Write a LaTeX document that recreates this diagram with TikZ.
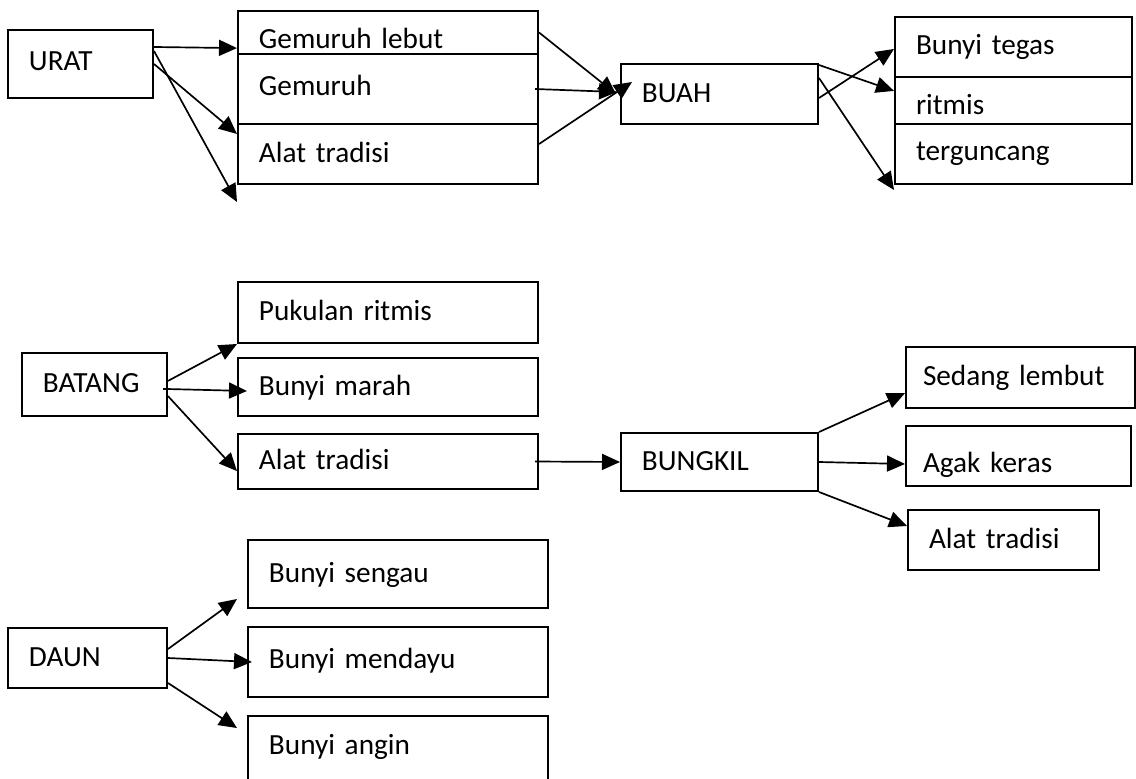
\documentclass[tikz,border=0pt]{standalone}
\usepackage{fontspec}
\setmainfont{Carlito}
\usepackage{tikz}
\usetikzlibrary{arrows.meta}

\tikzset{
    box/.style={draw, line width=1.4pt, anchor=north west, align=left,
        inner xsep=0.525cm, inner ysep=0pt, text height=0.5cm, text depth=0.1cm,
        font=\fontsize{20.8}{24}\selectfont},
    link/.style={line width=1.2pt, -{Triangle[length=0.45cm,width=0.4cm]}},
}

\begin{document}
\begin{tikzpicture}[x=0.025cm, y=-0.025cm]
            \useasboundingbox (0, 0) rectangle (1136, 778);
            \clip (0, 0) rectangle (1136, 778);
            % urat and buah
            \node[box, text width=2.575cm, minimum height=1.7cm] (urat) at (7, 29) {\raisebox{0.05cm}{URAT}};
            \node[box, text width=6.45cm, minimum height=1.075cm] (lebut) at (237, 10) {\raisebox{-0.19cm}{Gemuruh lebut}};
            \node[box, text width=6.45cm, minimum height=1.75cm] (gemuruh) at (237, 53) {\raisebox{0.05cm}{Gemuruh}};
            \node[box, text width=6.45cm, minimum height=1.5cm] (tradisiA) at (237, 123) {Alat tradisi};
            \node[box, text width=3.875cm, minimum height=1.5cm] (buah) at (620, 63) {BUAH};
            \node[box, text width=4.875cm, minimum height=1.5cm] (tegas) at (894, 16) {Bunyi tegas};
            \node[box, text width=4.875cm, minimum height=1.175cm] (ritmis) at (894, 76) {\raisebox{-0.15cm}{ritmis}};
            \node[box, text width=4.875cm, minimum height=1.5cm] (guncang) at (894, 123) {\raisebox{0.05cm}{terguncang}};
            \draw[link] ([yshift=0.425cm]urat.east) -- ([yshift=-0.39cm]lebut.west);
            \draw[link] (urat.east) -- ([yshift=0.5cm]tradisiA.west);
            \draw[link] ([yshift=0.325cm]urat.east) -- ([yshift=-0.425cm]tradisiA.south west);
            \draw[link] (lebut.east) -- ([xshift=-0.1cm]buah.west);
            \draw[link] ([xshift=-0.1cm]gemuruh.east) -- ([xshift=-0.075cm,yshift=0.05cm]buah.west);
            \draw[link] ([yshift=0.25cm]tradisiA.east) -- ([xshift=0.3cm,yshift=0.3cm]buah.west);
            \draw[link] ([yshift=-0.05cm]buah.north east) -- ([yshift=0.24cm]ritmis.west);
            \draw[link] ([yshift=-0.1cm]buah.east) -- ([yshift=-0.05cm]tegas.west);
            \draw[link] ([yshift=0.4cm]buah.east) -- ([yshift=-0.125cm]guncang.south west);
            % batang and bungkil
            \node[box, text width=2.575cm, minimum height=1.575cm] (batang) at (21, 352) {BATANG};
            \node[box, text width=6.45cm, minimum height=1.525cm] (pukulan) at (237, 281) {Pukulan ritmis};
            \node[box, text width=6.45cm, minimum height=1.45cm] (marah) at (237, 357) {Bunyi marah};
            \node[box, text width=6.45cm, minimum height=1.375cm] (tradisiB) at (237, 433) {Alat tradisi};
            \node[box, text width=3.875cm, minimum height=1.45cm] (bungkil) at (620, 432) {BUNGKIL};
            \node[box, inner xsep=0.425cm, text width=4.875cm, minimum height=1.525cm] (sedang) at (905, 346) {Sedang lembut};
            \node[box, inner xsep=0.425cm, text width=4.775cm, minimum height=1.5cm] (agak) at (905, 425) {\raisebox{-0.2cm}{Agak keras}};
            \node[box, text width=3.725cm, minimum height=1.5cm] (tradisiC) at (907, 509) {Alat tradisi};
            \draw[link] ([yshift=0.09cm]batang.east) -- (pukulan.south west);
            \draw[link] ([xshift=-0.125cm,yshift=-0.11cm]batang.east) -- ([xshift=0.25cm,yshift=-0.1cm]marah.west);
            \draw[link] ([yshift=-0.29cm]batang.east) -- ([yshift=-0.24cm]tradisiB.west);
            \draw[link] ([xshift=-0.1cm]tradisiB.east) -- (bungkil.west);
            \draw[link] (bungkil.north east) -- ([yshift=-0.39cm]sedang.west);
            \draw[link] (bungkil.east) -- ([yshift=-0.2cm]agak.west);
            \draw[link] (bungkil.south east) -- ([yshift=0.35cm]tradisiC.west);
            % daun
            \node[box, text width=2.925cm, minimum height=1.5cm] (daun) at (7, 627) {DAUN};
            \node[box, text width=6.45cm, minimum height=1.7cm] (sengau) at (247, 539) {Bunyi sengau};
            \node[box, text width=6.45cm, minimum height=1.75cm] (mendayu) at (247, 626) {\raisebox{0.05cm}{Bunyi mendayu}};
            \node[box, text width=6.45cm, minimum height=2cm] (angin) at (247, 715) {\raisebox{0.25cm}{Bunyi angin}};
            \draw[link] ([yshift=0.225cm]daun.east) -- ([xshift=-0.25cm,yshift=0.25cm]sengau.south west);
            \draw[link] (daun.east) -- ([xshift=0.125cm]mendayu.west);
            \draw[link] ([yshift=-0.625cm]daun.east) -- ([xshift=-0.25cm,yshift=-0.325cm]angin.north west);
        \end{tikzpicture}
\end{document}
